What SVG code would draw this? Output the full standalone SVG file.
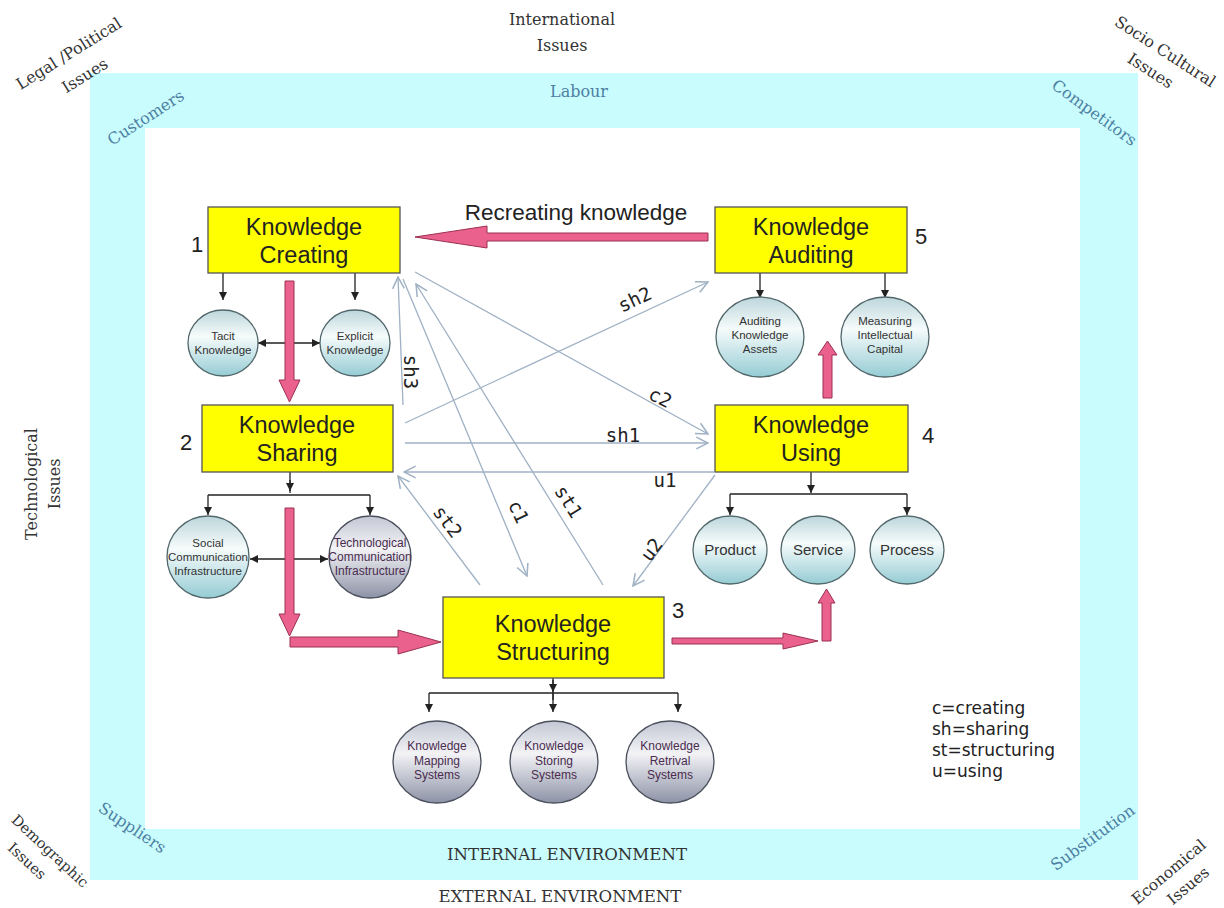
<svg xmlns="http://www.w3.org/2000/svg" width="1224" height="908" viewBox="0 0 1224 908">
<defs>
<linearGradient id="gl" x1="0" y1="0" x2="0" y2="1">
<stop offset="0" stop-color="#bcd6db"/><stop offset="0.4" stop-color="#f6fbfb"/><stop offset="1" stop-color="#95ccd4"/>
</linearGradient>
<linearGradient id="gg" x1="0" y1="0" x2="0" y2="1">
<stop offset="0" stop-color="#c3c7d4"/><stop offset="0.4" stop-color="#f3f3f6"/><stop offset="1" stop-color="#8c92a6"/>
</linearGradient>
<marker id="ah" viewBox="0 0 10 10" refX="10" refY="5" markerWidth="8" markerHeight="8" markerUnits="userSpaceOnUse" orient="auto-start-reverse">
<path d="M0,0 L10,5 L0,10 z" fill="#222"/>
</marker>
<marker id="oh" viewBox="0 0 12 12" refX="11" refY="6" markerWidth="14" markerHeight="14" markerUnits="userSpaceOnUse" orient="auto-start-reverse">
<path d="M1,1 L11,6 L1,11" fill="none" stroke="#9fb1c4" stroke-width="1.3"/>
</marker>
<style>
.env{font-family:"DejaVu Serif",serif;font-size:16px;fill:#333}
.env2{font-family:"DejaVu Serif",serif;font-size:14.5px;fill:#333}
.env3{font-family:"DejaVu Serif",serif;font-size:15.5px;fill:#333}
.big{font-family:"DejaVu Serif",serif;font-size:16.6px;fill:#333}
.blu{font-family:"DejaVu Serif",serif;font-size:16px;fill:#4d80a3}
.box{fill:#ffff00;stroke:#555;stroke-width:1.3}
.bt{font-family:"Liberation Sans",Arial,sans-serif;font-size:23.5px;fill:#222;text-anchor:middle}
.num{font-family:"Liberation Sans",Arial,sans-serif;font-size:22px;fill:#222}
.cl{fill:url(#gl);stroke:#52676b;stroke-width:1.3}
.cg{fill:url(#gg);stroke:#4a4f5c;stroke-width:1.3}
.ct{font-family:"Liberation Sans",Arial,sans-serif;font-size:11.5px;fill:#333;text-anchor:middle}
.cp{font-family:"Liberation Sans",Arial,sans-serif;font-size:12px;fill:#4a2c4f;text-anchor:middle}
.cb{font-family:"Liberation Sans",Arial,sans-serif;font-size:15px;fill:#333;text-anchor:middle}
.tr{fill:none;stroke:#222;stroke-width:1.3}
.kn{fill:none;stroke:#9fb1c4;stroke-width:1.3;marker-end:url(#oh)}
.pk{fill:#e9618c;stroke:#9c3152;stroke-width:1}
.lb{font-family:"DejaVu Sans Mono",monospace;font-size:19px;fill:#222;text-anchor:middle}
.lg{font-family:"DejaVu Sans",sans-serif;font-size:17px;fill:#222}
</style>
</defs>
<rect width="1224" height="908" fill="#fff"/>
<g id="frame">
<rect x="90" y="73" width="1048" height="807" fill="#c9fcfd"/>
<rect x="145" y="128" width="935" height="701" fill="#fff"/>
</g>
<g id="environment-labels">
<text class="env" x="562" y="25" text-anchor="middle">International</text>
<text class="env" x="562" y="51" text-anchor="middle">Issues</text>
<text class="blu" x="579" y="97" text-anchor="middle">Labour</text>
<g transform="translate(69,54) rotate(-32)"><text class="env" x="0" y="5" text-anchor="middle">Legal /Political</text><text class="env" x="2" y="32" text-anchor="middle">Issues</text></g>
<g transform="translate(146,118) rotate(-33)"><text class="blu" x="0" y="5" text-anchor="middle">Customers</text></g>
<g transform="translate(1094,113) rotate(36)"><text class="blu" x="0" y="5" text-anchor="middle">Competitors</text></g>
<g transform="translate(1165,52) rotate(33)"><text class="env" x="0" y="5" text-anchor="middle">Socio Cultural</text><text class="env" x="-2" y="29" text-anchor="middle">Issues</text></g>
<g transform="translate(43,484) rotate(-90)"><text class="env" x="0" y="-6" text-anchor="middle">Technological</text><text class="env" x="0" y="17" text-anchor="middle">Issues</text></g>
<g transform="translate(50,851) rotate(43)"><text class="env2" x="0" y="5" text-anchor="middle">Demographic</text><text class="env2" x="-10" y="28" text-anchor="middle">Issues</text></g>
<g transform="translate(132,828) rotate(34)"><text class="blu" x="0" y="5" text-anchor="middle">Suppliers</text></g>
<g transform="translate(1093,838) rotate(-36)"><text class="blu" x="0" y="5" text-anchor="middle">Substitution</text></g>
<g transform="translate(1169,872) rotate(-40)"><text class="env3" x="0" y="5" text-anchor="middle">Economical</text><text class="env3" x="6" y="28" text-anchor="middle">Issues</text></g>
<text class="big" x="567" y="860" text-anchor="middle">INTERNAL ENVIRONMENT</text>
<text class="big" x="560" y="902" text-anchor="middle">EXTERNAL ENVIRONMENT</text>
</g>
<g id="connectors">
<path class="kn" d="M403,405 L398,277"/>
<path class="kn" d="M603,585 L416,284"/>
<path class="kn" d="M403,279 L527,576"/>
<path class="kn" d="M415,272 L708,434"/>
<path class="kn" d="M405,423 L708,282"/>
<path class="kn" d="M405,443 L708,443"/>
<path class="kn" d="M714,472 L404,472"/>
<path class="kn" d="M480,585 L398,476"/>
<path class="kn" d="M715,475 L633,586"/>
<text class="lb" transform="translate(410,372) rotate(90)" y="6">sh3</text>
<text class="lb" transform="translate(635,300) rotate(-25)" y="6">sh2</text>
<text class="lb" transform="translate(660,398) rotate(28)" y="6">c2</text>
<text class="lb" x="623" y="442">sh1</text>
<text class="lb" x="665" y="487">u1</text>
<text class="lb" transform="translate(447,522) rotate(53)" y="6">st2</text>
<text class="lb" transform="translate(518,512) rotate(65)" y="6">c1</text>
<text class="lb" transform="translate(568,502) rotate(58)" y="6">st1</text>
<text class="lb" transform="translate(652,550) rotate(-53)" y="6">u2</text>
<path class="tr" d="M223,273 V300" marker-end="url(#ah)"/>
<path class="tr" d="M355,273 V300" marker-end="url(#ah)"/>
<path class="tr" d="M258,343 H320" marker-start="url(#ah)" marker-end="url(#ah)"/>
<path class="tr" d="M290,472 V493"/>
<path class="tr" d="M290,480 V491" marker-end="url(#ah)"/>
<path class="tr" d="M208,495 H370"/>
<path class="tr" d="M208,495 V515" marker-end="url(#ah)"/>
<path class="tr" d="M370,495 V515" marker-end="url(#ah)"/>
<path class="tr" d="M250,559 H328" marker-start="url(#ah)" marker-end="url(#ah)"/>
<path class="tr" d="M553,678 V700"/>
<path class="tr" d="M553,680 V692" marker-end="url(#ah)"/>
<path class="tr" d="M429,693 H678"/>
<path class="tr" d="M429,693 V712" marker-end="url(#ah)"/>
<path class="tr" d="M553,693 V712" marker-end="url(#ah)"/>
<path class="tr" d="M678,693 V712" marker-end="url(#ah)"/>
<path class="tr" d="M811,472 V493" marker-end="url(#ah)"/>
<path class="tr" d="M730,494 H907"/>
<path class="tr" d="M730,494 V515" marker-end="url(#ah)"/>
<path class="tr" d="M907,494 V515" marker-end="url(#ah)"/>
<path class="tr" d="M760,273 V298" marker-end="url(#ah)"/>
<path class="tr" d="M885,273 V298" marker-end="url(#ah)"/>
<polygon class="pk" points="708,233 487,233 487,226 415,237 487,248 487,241 708,241"/>
<polygon class="pk" points="285,281 294,281 294,380 300,380 289.5,402 279,380 285,380"/>
<polygon class="pk" points="285,508 294,508 294,614 300,614 289.5,636 279,614 285,614"/>
<polygon class="pk" points="290,637 398,637 398,630 441,642 398,654 398,647 290,647"/>
<polygon class="pk" points="672,638 783,638 783,633 818,641 783,649 783,644 672,644"/>
<polygon class="pk" points="822,641 831,641 831,603 835,603 826.5,589 818,603 822,603"/>
<polygon class="pk" points="823,398 832,398 832,355 837,355 827.5,341 818,355 823,355"/>
<text x="576" y="220" font-family="Liberation Sans, Arial, sans-serif" font-size="22.5" fill="#222" text-anchor="middle">Recreating knowledge</text>
</g>
<g id="creating">
<rect class="box" x="208" y="207" width="192" height="66"/>
<text class="bt" x="304" y="235">Knowledge</text>
<text class="bt" x="304" y="263">Creating</text>
<text class="num" x="191" y="252">1</text>
</g>
<g id="sharing">
<rect class="box" x="202" y="405" width="191" height="67"/>
<text class="bt" x="297" y="433">Knowledge</text>
<text class="bt" x="297" y="461">Sharing</text>
<text class="num" x="180" y="450">2</text>
</g>
<g id="structuring">
<rect class="box" x="443" y="597" width="221" height="81"/>
<text class="bt" x="553" y="632">Knowledge</text>
<text class="bt" x="553" y="660">Structuring</text>
<text class="num" x="672" y="618">3</text>
</g>
<g id="using">
<rect class="box" x="715" y="405" width="193" height="67"/>
<text class="bt" x="811" y="433">Knowledge</text>
<text class="bt" x="811" y="461">Using</text>
<text class="num" x="922" y="443">4</text>
</g>
<g id="auditing">
<rect class="box" x="715" y="207" width="192" height="66"/>
<text class="bt" x="811" y="235">Knowledge</text>
<text class="bt" x="811" y="263">Auditing</text>
<text class="num" x="915" y="244">5</text>
</g>
<g id="tacit"><ellipse class="cl" cx="223" cy="343" rx="35" ry="33"/><text class="ct" x="223" y="340">Tacit</text><text class="ct" x="223" y="354">Knowledge</text></g>
<g id="explicit"><ellipse class="cl" cx="355" cy="343" rx="35" ry="33"/><text class="ct" x="355" y="340">Explicit</text><text class="ct" x="355" y="354">Knowledge</text></g>
<g id="social"><ellipse class="cl" cx="208" cy="557" rx="41" ry="41"/><text class="ct" x="208" y="547">Social</text><text class="ct" x="208" y="561">Communication</text><text class="ct" x="208" y="575">Infrastructure</text></g>
<g id="technological"><ellipse class="cg" cx="370" cy="557" rx="41" ry="41"/><text class="cp" x="370" y="547">Technological</text><text class="cp" x="370" y="561">Communication</text><text class="cp" x="370" y="575">Infrastructure</text></g>
<g id="mapping"><ellipse class="cg" cx="437" cy="762" rx="44" ry="41"/><text class="cp" x="437" y="750">Knowledge</text><text class="cp" x="437" y="765">Mapping</text><text class="cp" x="437" y="779">Systems</text></g>
<g id="storing"><ellipse class="cg" cx="554" cy="762" rx="44" ry="41"/><text class="cp" x="554" y="750">Knowledge</text><text class="cp" x="554" y="765">Storing</text><text class="cp" x="554" y="779">Systems</text></g>
<g id="retrieval"><ellipse class="cg" cx="670" cy="762" rx="44" ry="41"/><text class="cp" x="670" y="750">Knowledge</text><text class="cp" x="670" y="765">Retrival</text><text class="cp" x="670" y="779">Systems</text></g>
<g id="product"><ellipse class="cl" cx="730" cy="550" rx="37" ry="34"/><text class="cb" x="730" y="555">Product</text></g>
<g id="service"><ellipse class="cl" cx="818" cy="550" rx="37" ry="34"/><text class="cb" x="818" y="555">Service</text></g>
<g id="process"><ellipse class="cl" cx="907" cy="550" rx="37" ry="34"/><text class="cb" x="907" y="555">Process</text></g>
<g id="auditing-assets"><ellipse class="cl" cx="760" cy="337" rx="44" ry="40"/><text class="ct" x="760" y="325">Auditing</text><text class="ct" x="760" y="339">Knowledge</text><text class="ct" x="760" y="353">Assets</text></g>
<g id="measuring"><ellipse class="cl" cx="885" cy="337" rx="44" ry="40"/><text class="ct" x="885" y="325">Measuring</text><text class="ct" x="885" y="339">Intellectual</text><text class="ct" x="885" y="353">Capital</text></g>
<g id="legend">
<text class="lg" x="932" y="714">c=creating</text>
<text class="lg" x="932" y="735">sh=sharing</text>
<text class="lg" x="932" y="756">st=structuring</text>
<text class="lg" x="932" y="777">u=using</text>
</g>
</svg>
